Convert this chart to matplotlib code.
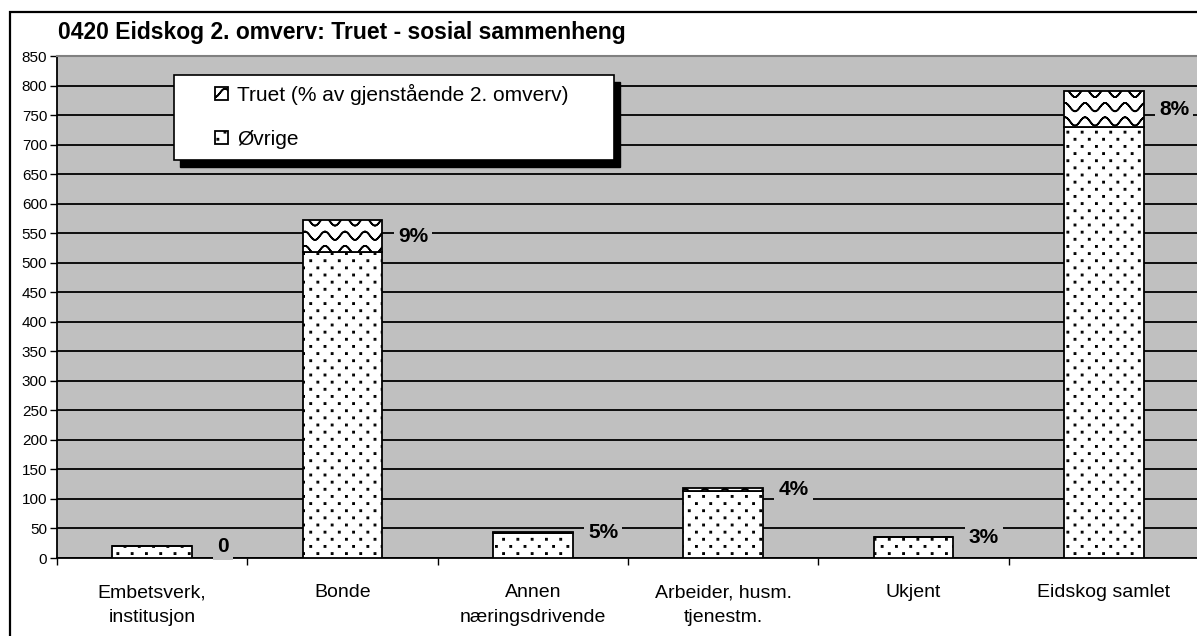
import warnings
warnings.filterwarnings("ignore")
import numpy as np
import matplotlib
matplotlib.use("Agg")
import matplotlib.pyplot as plt
import matplotlib.hatch as mhatch
from matplotlib.path import Path
from matplotlib.patches import Rectangle

# ---------------- data ----------------
categories = ["Embetsverk,\ninstitusjon", "Bonde", "Annen\nnæringsdrivende",
              "Arbeider, husm.\ntjenestm.", "Ukjent", "Eidskog samlet"]
ovrige = [20, 518, 42, 114, 35, 729]
truet = [0, 54, 2, 5, 1, 62]
pct_labels = ["0", "9%", "5%", "4%", "3%", "8%"]
yticks = list(range(0, 851, 50))
title = "0420 Eidskog 2. omverv: Truet - sosial sammenheng"
legend_labels = ["Truet (% av gjenstående 2. omverv)", "Øvrige"]


# ---------------- custom hatch patterns ----------------
class WaveHatch(mhatch.HatchPatternBase):
    """'~' : rows of wavy lines"""
    def __init__(self, hatch, density):
        self.rows = 7 * hatch.count('~')
        self.npts = 81
        self.num_vertices = self.rows * self.npts * 2

    def set_vertices_and_codes(self, vertices, codes):
        t = np.linspace(0.0, 1.0, self.npts)
        k = 0
        for r in range(self.rows):
            y0 = (r + 0.5) / self.rows
            seg = np.column_stack([t, y0 + 0.042 * np.sin(2 * np.pi * 5 * t)])
            vertices[k:k + self.npts] = seg
            codes[k] = Path.MOVETO
            codes[k + 1:k + self.npts] = Path.LINETO
            k += self.npts
            vertices[k:k + self.npts] = seg[::-1]
            codes[k:k + self.npts] = Path.LINETO
            k += self.npts


class DotHatch(mhatch.HatchPatternBase):
    """':' : staggered small square dots"""
    def __init__(self, hatch, density):
        n = hatch.count(':')
        self.rows = 14 * n
        self.cols = 7 * n
        self.num_vertices = self.rows * self.cols * 5

    def set_vertices_and_codes(self, vertices, codes):
        s = 0.006
        k = 0
        for r in range(self.rows):
            y = (r + 0.5) / self.rows
            off = 0.25 if r % 2 == 0 else 0.75
            for c in range(self.cols):
                x = (c + off) / self.cols
                vertices[k:k + 5] = [[x - s, y - s], [x + s, y - s],
                                     [x + s, y + s], [x - s, y + s],
                                     [x - s, y - s]]
                codes[k] = Path.MOVETO
                codes[k + 1:k + 4] = Path.LINETO
                codes[k + 4] = Path.CLOSEPOLY
                k += 5


mhatch._hatch_types.append(WaveHatch)
mhatch._hatch_types.append(DotHatch)

plt.rcParams['font.family'] = ['Liberation Sans', 'DejaVu Sans']
plt.rcParams['hatch.linewidth'] = 1.2
plt.rcParams['hatch.color'] = 'black'

W, H = 1197, 636
fig = plt.figure(figsize=(W / 100, H / 100), dpi=100)
fig.patch.set_facecolor('white')

# plot area in pixel coordinates
px_left, px_right, px_top, px_bottom = 57, 1199, 56, 558
ax = fig.add_axes([px_left / W, 1 - px_bottom / H,
                   (px_right - px_left) / W, (px_bottom - px_top) / H])
ax.set_facecolor('#C0C0C0')

x = np.arange(len(categories))
bar_w = 0.42
bars_o = ax.bar(x, ovrige, width=bar_w, color='white', edgecolor='black',
                linewidth=1.3, hatch=':', zorder=3)
bars_t = ax.bar(x, truet, width=bar_w, bottom=ovrige, color='white',
                edgecolor='black', linewidth=1.3, hatch='~', zorder=3)

ax.set_xlim(-0.5, len(categories) - 0.5)
ax.set_ylim(0, 850)
ax.set_yticks(yticks)
ax.set_yticklabels([str(v) for v in yticks])
ax.tick_params(axis='y', direction='out', length=5, width=1, pad=2,
               labelsize=11, colors='black')

ax.set_xticks(np.arange(-0.5, len(categories), 1.0))
ax.set_xticklabels([])
ax.tick_params(axis='x', which='major', direction='out', length=5, width=1)
ax.set_xticks(x, minor=True)
ax.set_xticklabels(categories, minor=True, fontsize=14, linespacing=1.6)
ax.tick_params(axis='x', which='minor', length=0, pad=19)

ax.set_axisbelow(True)
ax.yaxis.grid(True, color='black', linewidth=1.3)
ax.get_ygridlines()[-1].set_visible(False)

ax.spines['left'].set_color('black')
ax.spines['left'].set_linewidth(1.3)
ax.spines['bottom'].set_color('black')
ax.spines['bottom'].set_linewidth(1.3)
ax.spines['top'].set_color('#808080')
ax.spines['top'].set_linewidth(1.5)
ax.spines['right'].set_visible(False)

# data labels
for xi, o, t, lab in zip(x, ovrige, truet, pct_labels):
    ax.text(xi + 0.37, o + t / 2, lab, ha='center', va='center',
            fontsize=15, fontweight='bold', zorder=5,
            bbox=dict(facecolor='#C0C0C0', edgecolor='none', pad=3))

# title
fig.text(58 / W, 1 - 32 / H, title, ha='left', va='center',
         fontsize=16.5, fontweight='bold')

# outer chart border
fig.add_artist(Rectangle((10 / W, -0.1), 1.2, 1 - 12 / H + 0.1,
                         transform=fig.transFigure, fill=False,
                         edgecolor='black', linewidth=1.6, zorder=2))

# legend frame with shadow
lx0, ly0, lx1, ly1 = 174, 75, 614, 160
fig.add_artist(Rectangle(((lx0 + 6) / W, 1 - (ly1 + 7) / H),
                         (lx1 - lx0) / W, (ly1 - ly0) / H,
                         transform=fig.transFigure, facecolor='black',
                         edgecolor='black', linewidth=1, zorder=3))
fig.add_artist(Rectangle((lx0 / W, 1 - ly1 / H),
                         (lx1 - lx0) / W, (ly1 - ly0) / H,
                         transform=fig.transFigure, facecolor='white',
                         edgecolor='black', linewidth=1.2, zorder=4))

leg = fig.legend([bars_t, bars_o], legend_labels, loc='upper left',
                 bbox_to_anchor=(215 / W, 1 - 84 / H),
                 bbox_transform=fig.transFigure, frameon=False,
                 borderpad=0, borderaxespad=0, fontsize=15,
                 handlelength=0.6, handleheight=0.6, handletextpad=0.45,
                 labelspacing=1.2)
leg.set_zorder(5)

fig.savefig('out.png', dpi=100)
